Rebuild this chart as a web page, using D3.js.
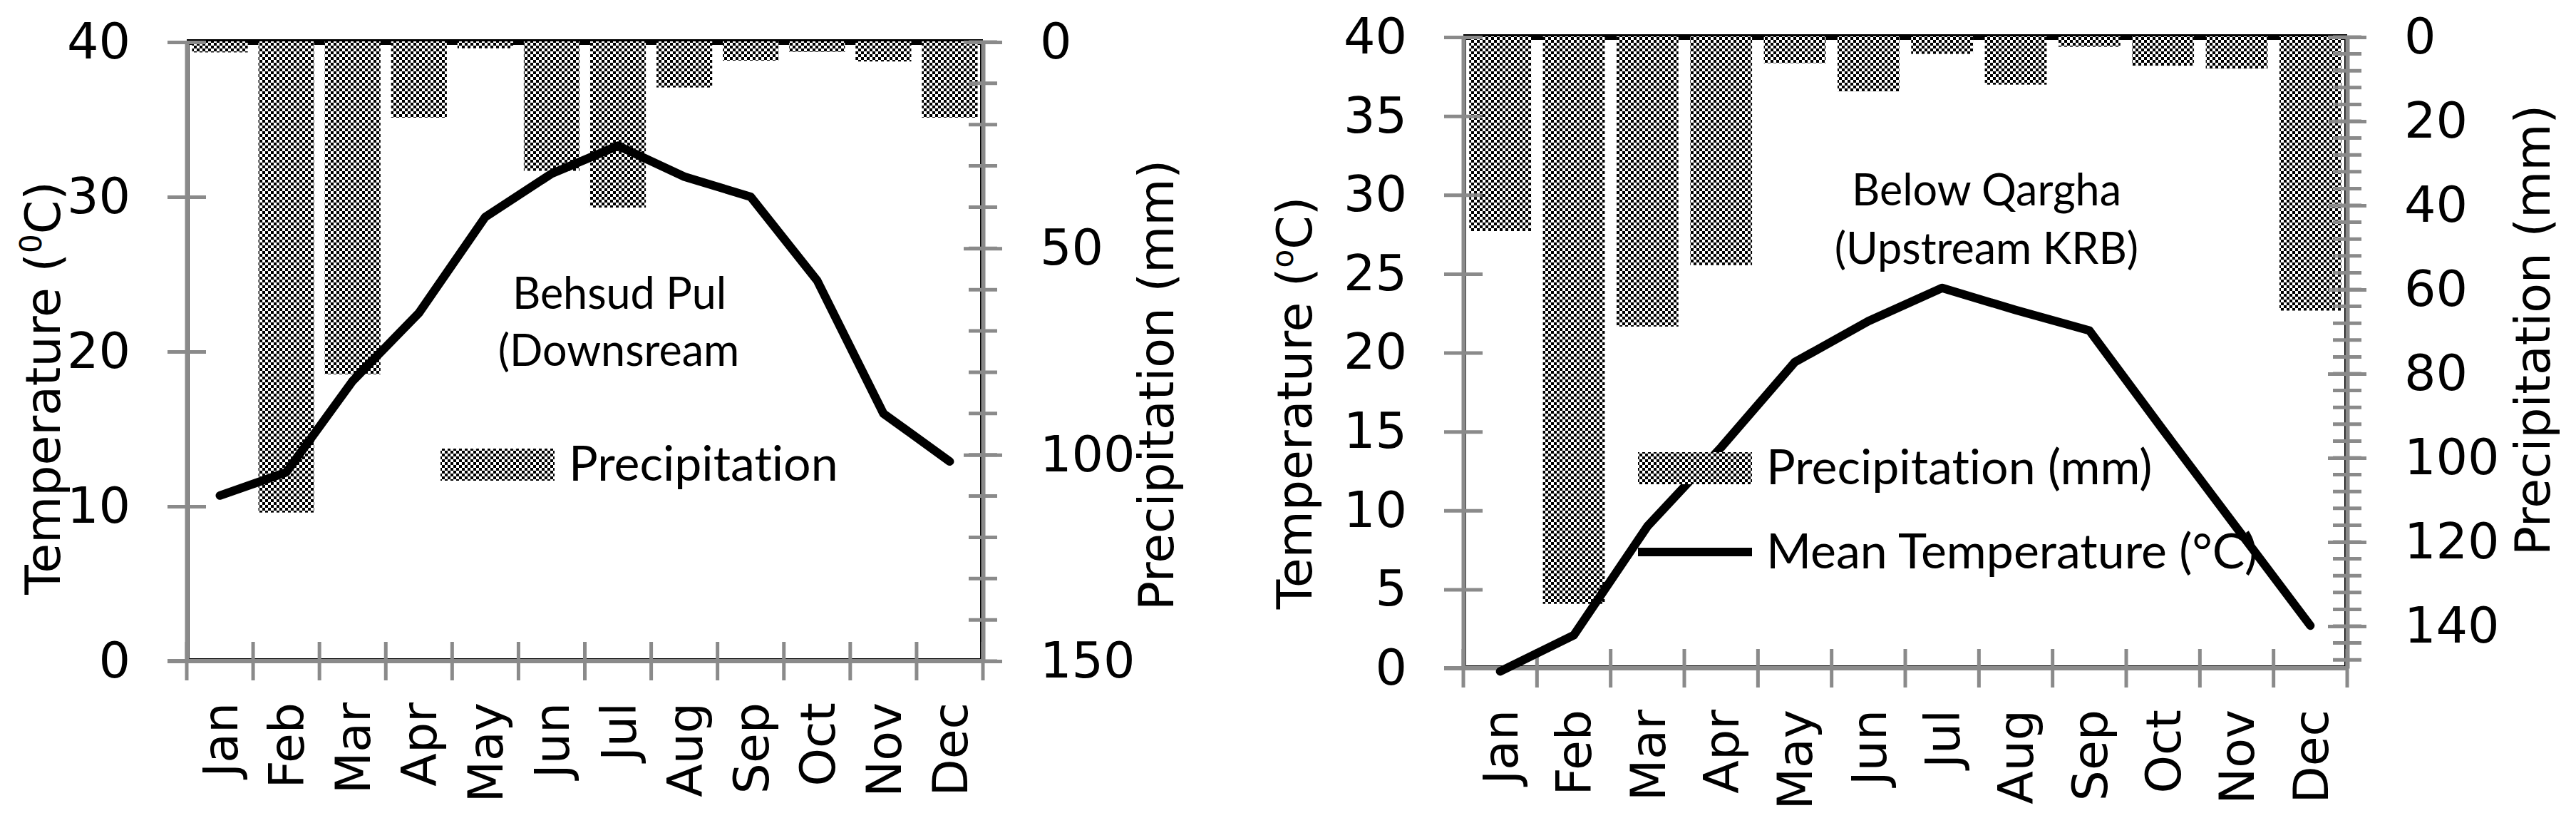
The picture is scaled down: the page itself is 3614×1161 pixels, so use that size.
<!DOCTYPE html>
<html><head><meta charset="utf-8">
<script src="https://cdn.jsdelivr.net/npm/d3@7"></script>
<style>body{margin:0;background:#fff}svg{display:block}text{font-variant-ligatures:none;font-feature-settings:"liga" 0,"clig" 0}</style>
</head><body>
<svg id="c" width="3614" height="1161"></svg>
<script>
// ---------- data ----------
const months = ["Jan","Feb","Mar","Apr","May","Jun","Jul","Aug","Sep","Oct","Nov","Dec"];
const behsudTemp   = [10.7,12.2,18.1,22.5,28.7,31.5,33.3,31.3,30.0,24.6,16.0,12.9];
const behsudPrecip = [2.5,114,80.5,18.3,1.5,31.2,40.1,11,4.5,2.4,4.7,18.3];
const qarghaTemp   = [-0.2,2.1,9.0,14.0,19.4,22.0,24.1,22.7,21.4,15.1,8.9,2.7];
const qarghaPrecip = [46.1,134.7,68.8,54.2,6.2,12.9,4.0,11.3,2.3,6.8,7.5,65.0];
const behsudTempTicks   = [0,10,20,30,40];
const behsudPrecipTicks = [0,50,100,150];
const behsudPrecipMinor = [0,10,20,30,40,50,60,70,80,90,100,110,120,130,140,150];
const qarghaTempTicks   = [0,5,10,15,20,25,30,35,40];
const qarghaPrecipTicks = [0,20,40,60,80,100,120,140];
const qarghaPrecipMinor = [0,4,8,12,16,20,24,28,32,36,40,44,48,52,56,60,64,68,72,76,80,84,88,92,96,100,104,108,112,116,120,124,128,132,136,140,144,148];

const GRAY = "#8a8a8a";
const AXF = "DejaVu Sans";
const ANF = "Lato, Liberation Sans, sans-serif";

const svg = d3.select("#c");
const defs = svg.append("defs");
const pat = defs.append("pattern").attr("id","chk").attr("patternUnits","userSpaceOnUse")
  .attr("width",8).attr("height",8);
pat.append("rect").attr("width",8).attr("height",8).attr("fill","#fff");
pat.append("rect").attr("width",4).attr("height",4).attr("fill","#000");
pat.append("rect").attr("x",4).attr("y",4).attr("width",4).attr("height",4).attr("fill","#000");

function drawChart(c) {
  const g = svg.append("g");
  const x = d3.scaleBand().domain(months).range([c.x0, c.x1]).paddingInner(0.16).paddingOuter(0.08);
  const yT = d3.scaleLinear().domain([0, 40]).range([c.y1, c.y0]);
  const yP = d3.scaleLinear().domain([0, 150]).range([c.y0, c.y1]);

  // thin black plot border lines (inner side of axes)
  g.append("line").attr("x1", c.x0+3).attr("x2", c.x0+3).attr("y1", c.y0).attr("y2", c.y1)
    .attr("stroke","#000").attr("stroke-width",2);
  g.append("line").attr("x1", c.x1-3).attr("x2", c.x1-3).attr("y1", c.y0).attr("y2", c.y1)
    .attr("stroke","#000").attr("stroke-width",2);
  g.append("line").attr("x1", c.x0).attr("x2", c.x1).attr("y1", c.y1-3).attr("y2", c.y1-3)
    .attr("stroke","#000").attr("stroke-width",2);

  // top black baseline for bars
  g.append("line").attr("x1", c.x0).attr("x2", c.x1).attr("y1", yP(0)).attr("y2", yP(0))
    .attr("stroke","#000").attr("stroke-width",8);

  // bars
  g.selectAll("rect.bar").data(c.precip).join("rect").attr("class","bar")
    .attr("x", (d,i) => x(months[i]))
    .attr("y", yP(0) - 1)
    .attr("width", x.bandwidth())
    .attr("height", d => yP(d) - yP(0) + 1)
    .attr("fill","url(#chk)");

  // left axis
  const la = g.append("g").attr("transform",`translate(${c.x0},0)`)
    .call(d3.axisLeft(yT).tickValues(c.tempTicks).tickSize(27).tickSizeOuter(0).tickPadding(52));
  la.select(".domain").attr("stroke",GRAY).attr("stroke-width",6);
  la.selectAll(".tick line").attr("x1",27).attr("x2",-27).attr("stroke",GRAY).attr("stroke-width",5);
  la.selectAll(".tick text").attr("font-family",AXF).attr("font-size",70).attr("fill","#000");

  // right axis
  const ra = g.append("g").attr("transform",`translate(${c.x1},0)`)
    .call(d3.axisRight(yP).tickValues(c.precipTicks).tickSize(27).tickSizeOuter(0).tickPadding(53));
  ra.select(".domain").attr("stroke",GRAY).attr("stroke-width",6);
  ra.selectAll(".tick line").attr("x1",-27).attr("x2",27).attr("stroke",GRAY).attr("stroke-width",5);
  ra.selectAll(".tick text").attr("font-family",AXF).attr("font-size",70).attr("fill","#000");
  ra.selectAll("line.minor").data(c.precipMinor).join("line").attr("class","minor")
    .attr("x1",-20).attr("x2",20).attr("y1",d=>yP(d)).attr("y2",d=>yP(d))
    .attr("stroke",GRAY).attr("stroke-width",5);

  // bottom axis
  const ba = g.append("g");
  ba.append("line").attr("x1", c.x0-27).attr("x2", c.x1).attr("y1", c.y1).attr("y2", c.y1)
    .attr("stroke",GRAY).attr("stroke-width",6);
  const bounds = d3.range(months.length + 1).map(i => x.range()[0] + i * x.step());
  ba.selectAll("line.bt").data(bounds).join("line").attr("class","bt")
    .attr("x1",d=>d).attr("x2",d=>d).attr("y1",c.y1-27).attr("y2",c.y1+27)
    .attr("stroke",GRAY).attr("stroke-width",5);
  ba.selectAll("text.mon").data(months).join("text").attr("class","mon")
    .attr("transform", d => `translate(${x(d)+x.bandwidth()/2},${c.y1+58}) rotate(-90)`)
    .attr("text-anchor","end").attr("dy","0.36em")
    .attr("font-family",AXF).attr("font-size",68).text(d=>d);

  // temperature line
  const line = d3.line().x((d,i) => x(months[i]) + x.bandwidth()/2).y(d => yT(d));
  g.append("path").datum(c.temp).attr("d", line).attr("fill","none")
    .attr("stroke","#000").attr("stroke-width",12)
    .attr("stroke-linejoin","round").attr("stroke-linecap","round");

  // axis titles
  const tt = g.append("text").attr("transform",`translate(${c.tTitleX},${c.tTitleY}) rotate(-90)`)
    .attr("text-anchor","middle").attr("font-family",AXF).attr("font-size",68);
  tt.append("tspan").text("Temperature (");
  tt.append("tspan").attr("font-size",42).attr("dy",-26).text(c.degGlyph);
  tt.append("tspan").attr("dy",26).text("C)");
  g.append("text").attr("transform",`translate(${c.pTitleX},${c.pTitleY}) rotate(-90)`)
    .attr("text-anchor","middle").attr("font-family",AXF).attr("font-size",68)
    .text("Precipitation (mm)");

  // annotation
  c.notes.forEach(n => {
    g.append("text").attr("x",n.x).attr("y",n.y).attr("text-anchor","middle")
      .attr("font-family",ANF).attr("font-size",61).text(n.t);
  });

  // legend
  const L = c.legend;
  g.append("rect").attr("x",L.x).attr("y",L.py).attr("width",160).attr("height",45).attr("fill","url(#chk)");
  g.append("text").attr("x",L.x+180).attr("y",L.py+45).attr("font-family",ANF).attr("font-size",68)
    .text(L.pText);
  if (L.tText) {
    g.append("line").attr("x1",L.x).attr("x2",L.x+160).attr("y1",L.ty).attr("y2",L.ty)
      .attr("stroke","#000").attr("stroke-width",12);
    g.append("text").attr("x",L.x+180).attr("y",L.ty+23).attr("font-family",ANF).attr("font-size",68)
      .text(L.tText);
  }
}

drawChart({
  x0: 262, x1: 1379, y0: 59, y1: 927,
  temp: behsudTemp, precip: behsudPrecip,
  tempTicks: behsudTempTicks, precipTicks: behsudPrecipTicks, precipMinor: behsudPrecipMinor,
  tTitleX: 84, tTitleY: 544, pTitleX: 1646, pTitleY: 540, degGlyph: "0",
  notes: [{t:"Behsud Pul", x:869, y:433}, {t:"(Downsream", x:868, y:513}],
  legend: {x:618, py:629, pText:"Precipitation"}
});
drawChart({
  x0: 2053, x1: 3293, y0: 52, y1: 937,
  temp: qarghaTemp, precip: qarghaPrecip,
  tempTicks: qarghaTempTicks, precipTicks: qarghaPrecipTicks, precipMinor: qarghaPrecipMinor,
  tTitleX: 1840, tTitleY: 565, pTitleX: 3577, pTitleY: 463, degGlyph: "o",
  notes: [{t:"Below Qargha", x:2787, y:288}, {t:"(Upstream KRB)", x:2787, y:370}],
  legend: {x:2298, py:634, pText:"Precipitation (mm)", ty:774, tText:"Mean Temperature (°C)"}
});
</script>
</body></html>
